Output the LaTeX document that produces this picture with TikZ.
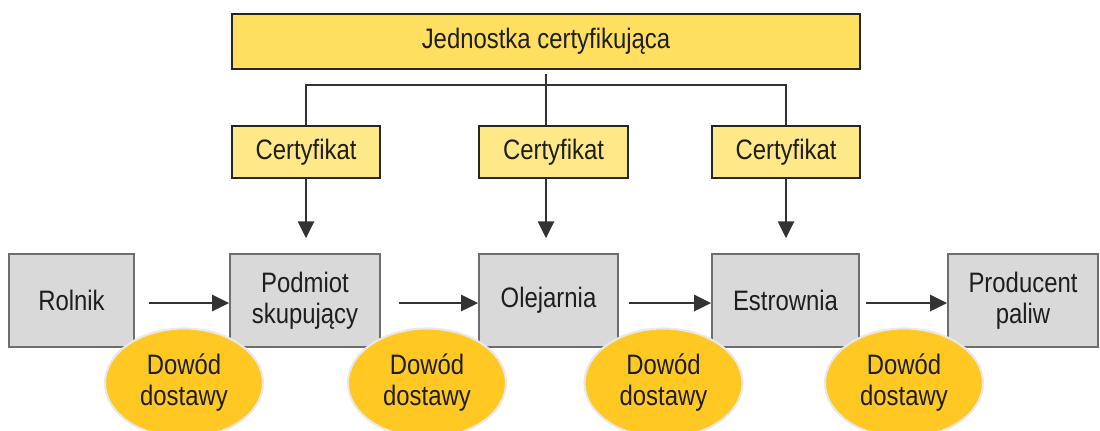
\documentclass[tikz,border=0pt]{standalone}
\usepackage{fontspec}
\setmainfont{Liberation Sans}[FakeStretch=0.85]
\usetikzlibrary{arrows.meta}
\usetikzlibrary{shapes.geometric}

\definecolor{topyellow}{HTML}{FFDF60}
\definecolor{certyellow}{HTML}{FFE888}
\definecolor{proofyellow}{HTML}{FFC822}
\definecolor{proofrim}{HTML}{E8E8E8}
\definecolor{unitgray}{HTML}{D9D9D9}
\definecolor{unitborder}{HTML}{6E6E6E}
\definecolor{linkdark}{HTML}{333333}
\definecolor{textdark}{HTML}{1E1E1E}

\begin{document}
\begin{tikzpicture}[
	x=0.025cm, y=-0.025cm,
	every node/.style={font=\fontsize{20}{22}\selectfont, text=textdark, align=center, inner sep=0pt},
	unit/.style={draw=unitborder, line width=1.3pt, fill=unitgray, minimum height=2.325cm},
	cert/.style={draw=black!85, line width=1.3pt, fill=certyellow, minimum width=3.7cm, minimum height=1.3cm},
	proof/.style={ellipse, draw=proofrim, line width=1.5pt, fill=proofyellow, minimum width=3.95cm, minimum height=2.725cm},
	link/.style={draw=linkdark, line width=1.4pt},
	flow/.style={link, -{Triangle[length=12pt, width=11.5pt]}}
	]
	\useasboundingbox (0,0) rectangle (1100,430);

	% Certifying body and certificates
	\node[draw=black!85, line width=1.3pt, fill=topyellow, minimum width=15.7cm, minimum height=1.375cm] (top) at (546,41.5) {Jednostka certyfikująca};
	\node[cert] (c1) at (306,152) {Certyfikat};
	\node[cert, minimum width=3.725cm] (c2) at (553.5,152) {Certyfikat};
	\node[cert] (c3) at (786,152) {Certyfikat};
	\coordinate (split) at (546,85);

	% Supply chain
	\node[unit, minimum width=3.125cm] (rolnik) at (71.5,300.5) {Rolnik};
	\node[unit, minimum width=3.75cm] (podmiot) at (305,300.5) {Podmiot\\skupujący};
	\node[unit, minimum width=3.475cm] (olejarnia) at (548.5,300.5) {Olejarnia};
	\node[unit, minimum width=3.675cm] (estrownia) at (785.5,300.5) {Estrownia};
	\node[unit, minimum width=3.75cm] (producent) at (1023,300.5) {Producent\\paliw};

	% Delivery proofs
	\node[proof] (d1) at (184,383) {Dowód\\dostawy};
	\node[proof] (d2) at (427,383) {Dowód\\dostawy};
	\node[proof] (d3) at (663.5,383) {Dowód\\dostawy};
	\node[proof] (d4) at (904,383) {Dowód\\dostawy};

	% Tree
	\draw[link] ([yshift=-3pt]top.south) -- (top.south |- c2.north);
	\draw[link] (c1.north) |- (split) -| (c3.north);

	% Edges
	\draw[flow, shorten >=10.6pt] (c1.south) -- (c1.south |- podmiot.north);
	\draw[flow, shorten >=10.6pt] (c2.south -| split) -- (split |- olejarnia.north);
	\draw[flow, shorten >=10.6pt] (c3.south) -- (c3.south |- estrownia.north);
	\draw[flow, shorten <=9.9pt] ([yshift=-1.8pt]rolnik.east) -- ([yshift=-1.8pt]podmiot.west);
	\draw[flow, shorten <=12.8pt] ([yshift=-1.8pt]podmiot.east) -- ([yshift=-1.8pt]olejarnia.west);
	\draw[flow, shorten <=7pt] ([yshift=-1.8pt]olejarnia.east) -- ([yshift=-1.8pt]estrownia.west);
	\draw[flow, shorten <=4.3pt] ([yshift=-1.8pt]estrownia.east) -- ([yshift=-1.8pt]producent.west);
\end{tikzpicture}
\end{document}
